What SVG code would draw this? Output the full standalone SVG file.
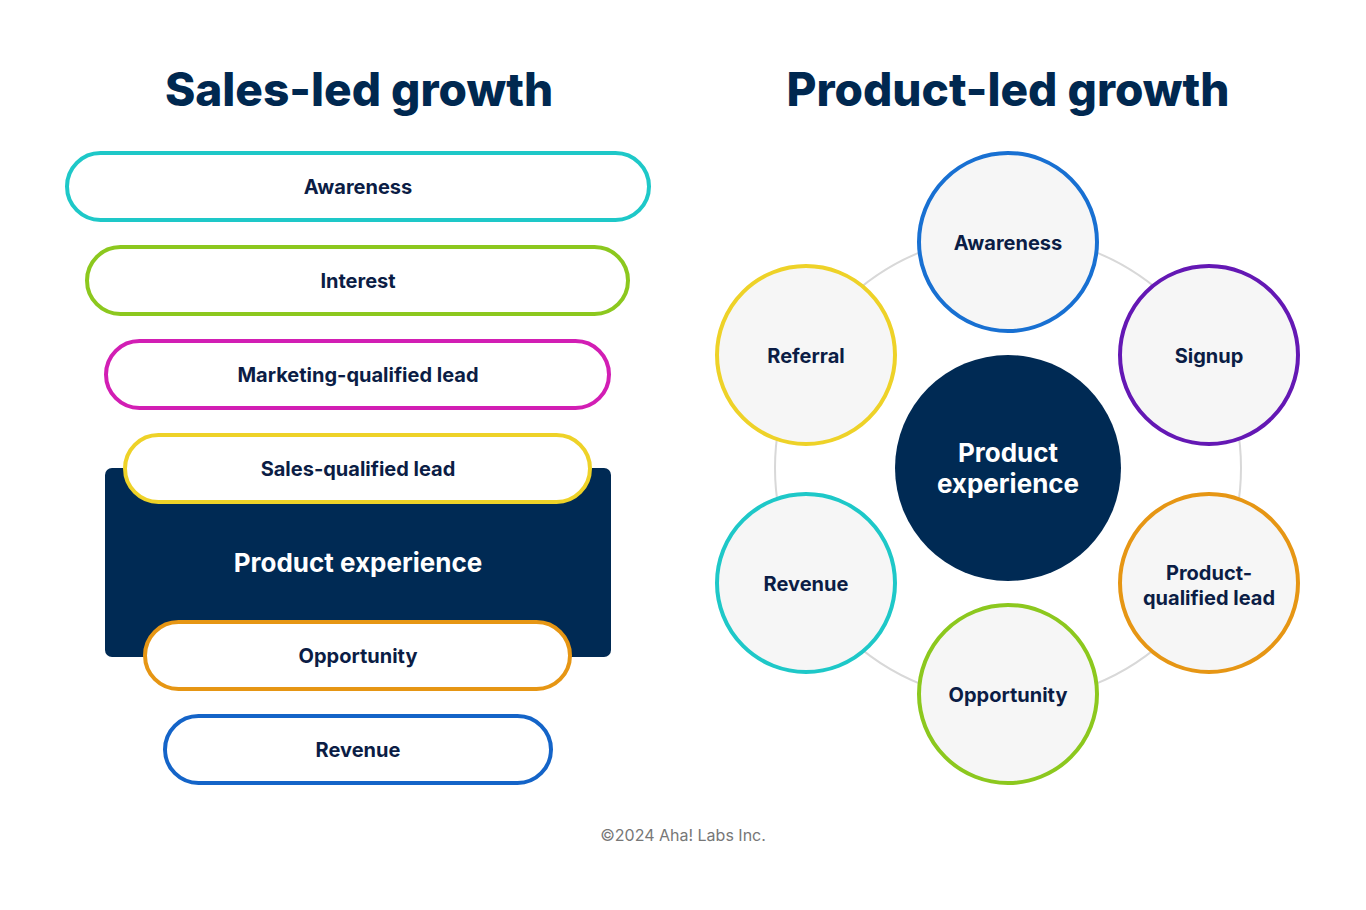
<svg xmlns="http://www.w3.org/2000/svg" width="1366" height="910" viewBox="0 0 1366 910">
<style>
text{font-family:"Inter","Liberation Sans",sans-serif;font-weight:700;fill:#0b1d45;text-anchor:middle}
.t{font-size:46px;font-weight:800;fill:#002850}
.l{font-size:20px}
.pill{fill:#fff;stroke-width:4}
.c{fill:#f6f6f6;stroke-width:4}
.w{fill:#fff;font-size:26px}
</style>
<rect width="1366" height="910" fill="#fff"/>
<text class="t" x="359" y="106">Sales-led growth</text>
<text class="t" x="1008" y="106">Product-led growth</text>
<g id="left">
<rect id="pe-box" x="105" y="468" width="506" height="189" rx="7" fill="#002a54"/>
<text class="w" x="358" y="572">Product experience</text>
<g id="s-awareness"><rect class="pill" x="67" y="153" width="582" height="67" rx="33.5" stroke="#1ec8c8"/><text class="l" x="358" y="194">Awareness</text></g>
<g id="s-interest"><rect class="pill" x="87" y="247" width="541" height="67" rx="33.5" stroke="#8cc81e"/><text class="l" x="358" y="288">Interest</text></g>
<g id="s-mql"><rect class="pill" x="106" y="341" width="503" height="67" rx="33.5" stroke="#d21eb4"/><text class="l" x="358" y="382">Marketing-qualified lead</text></g>
<g id="s-sql"><rect class="pill" x="125" y="435" width="465" height="67" rx="33.5" stroke="#eed228"/><text class="l" x="358" y="476">Sales-qualified lead</text></g>
<g id="s-opp"><rect class="pill" x="145" y="622" width="425" height="67" rx="33.5" stroke="#e69614"/><text class="l" x="358" y="663">Opportunity</text></g>
<g id="s-rev"><rect class="pill" x="165" y="716" width="386" height="67" rx="33.5" stroke="#1464c8"/><text class="l" x="358" y="757">Revenue</text></g>
</g>
<g id="connectors"><circle cx="1008" cy="468" r="233" fill="none" stroke="#d8d8d8" stroke-width="2"/></g>
<g id="center"><circle cx="1008" cy="468" r="113" fill="#002a54"/><text class="w" x="1008" y="462">Product</text><text class="w" x="1008" y="493">experience</text></g>
<g id="p-awareness"><circle class="c" cx="1008" cy="242" r="89" stroke="#1870d2"/><text class="l" x="1008" y="250">Awareness</text></g>
<g id="p-signup"><circle class="c" cx="1209" cy="355" r="89" stroke="#6418b4"/><text class="l" x="1209" y="363">Signup</text></g>
<g id="p-pql"><circle class="c" cx="1209" cy="583" r="89" stroke="#e69614"/><text class="l" x="1209" y="580">Product-</text><text class="l" x="1209" y="605">qualified lead</text></g>
<g id="p-opp"><circle class="c" cx="1008" cy="694" r="89" stroke="#8cc81e"/><text class="l" x="1008" y="702">Opportunity</text></g>
<g id="p-rev"><circle class="c" cx="806" cy="583" r="89" stroke="#1ec8c8"/><text class="l" x="806" y="591">Revenue</text></g>
<g id="p-ref"><circle class="c" cx="806" cy="355" r="89" stroke="#eed228"/><text class="l" x="806" y="363">Referral</text></g>
<text x="683" y="841" style="font-size:16px;font-weight:400;fill:#777">©2024 Aha! Labs Inc.</text>
</svg>
